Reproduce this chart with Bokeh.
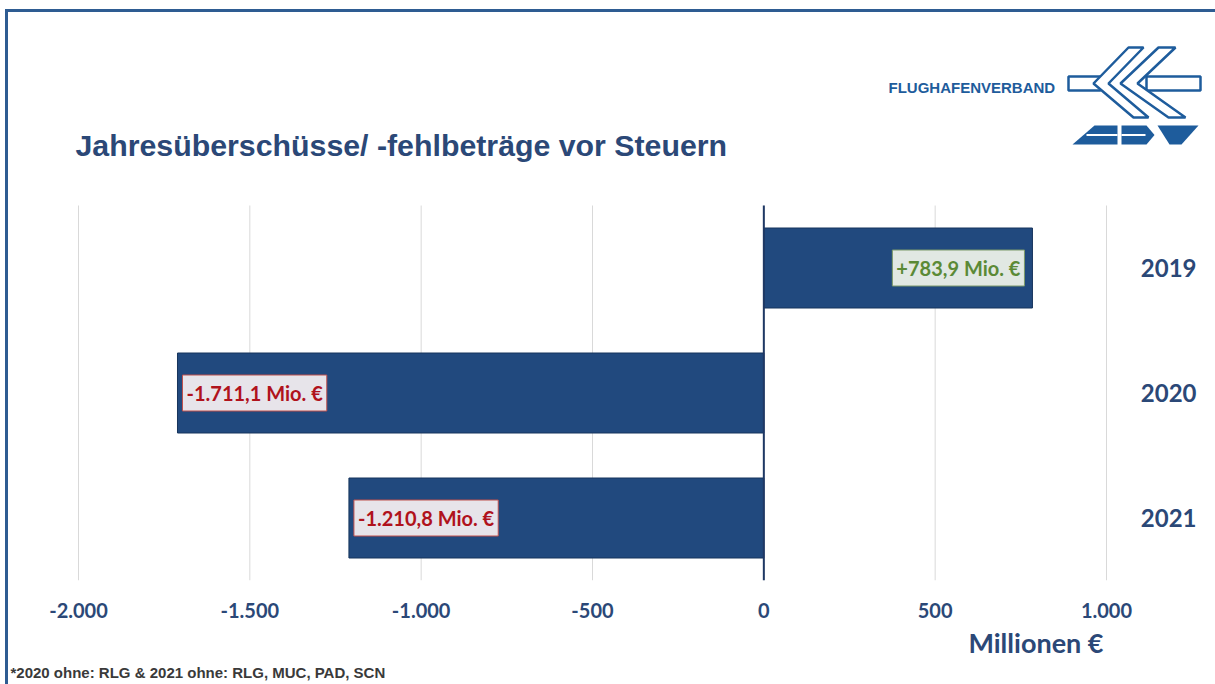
from bokeh.plotting import figure
from bokeh.models import Range1d, Title, ColumnDataSource, FixedTicker
from bokeh.core.properties import value
from bokeh.embed import file_html
from bokeh.resources import INLINE

# ---------------- data ----------------
years = ["2019", "2020", "2021"]
results = [783.9, -1711.1, -1210.8]          # Mio. EUR, before taxes
tick_values = [-2000, -1500, -1000, -500, 0, 500, 1000]
tick_labels = ["-2.000", "-1.500", "-1.000", "-500", "0", "500", "1.000"]
title_text = "Jahresüberschüsse/ -fehlbeträge vor Steuern"
unit_text = "Millionen €"
footnote_text = "*2020 ohne: RLG & 2021 ohne: RLG, MUC, PAD, SCN"
logo_text = "FLUGHAFENVERBAND"

# ---------------- styles / layout ----------------
W, H = 1215, 684
FRAME_BOTTOM = 580            # pixel row of the chart baseline
PLOT_L, PLOT_R = 78, 1106     # pixel columns of first / last tick
ROW_PX = 125                  # pixel height of one category row
BAR = "#21497E"
TXT = "#2B4877"
LOGO = "#1E5C9C"
POS_TXT, POS_BG, POS_BD = "#5B8A36", "#E1E8E3", "#7D9A6A"
NEG_TXT, NEG_BG, NEG_BD = "#B0121C", "#E7E4EA", "#C0504D"


def de_fmt(v):
    s = f"{abs(v):,.1f}".replace(",", "X").replace(".", ",").replace("X", ".")
    return ("+" if v > 0 else "-") + s + " Mio. €"


ppu = (PLOT_R - PLOT_L) / (tick_values[-1] - tick_values[0])
x_start = tick_values[0] - PLOT_L / ppu
x_end = tick_values[-1] + (W - PLOT_R) / ppu
n = len(years)
y_pos = [n - i - 0.5 for i in range(n)]      # 2019 on top

p = figure(width=W, height=H, x_range=Range1d(x_start, x_end),
           y_range=Range1d(0, FRAME_BOTTOM / ROW_PX),
           y_axis_location=None, toolbar_location=None, output_backend="svg",
           min_border_left=0, min_border_right=0, min_border_top=0,
           min_border_bottom=H - FRAME_BOTTOM)
p.outline_line_color = None
p.background_fill_color = None
p.border_fill_color = None
p.xgrid.grid_line_color = None
p.ygrid.grid_line_color = None
p.styles = {"box-shadow": "inset 0 9px 0 white, inset 5px 0 0 white, inset 8px 0 0 #2E5C92"}

# pixel-coordinate ranges for decorations
p.extra_x_ranges = {"px": Range1d(0, W)}
p.extra_y_ranges = {"px": Range1d(FRAME_BOTTOM, 0)}
PX = dict(x_range_name="px", y_range_name="px")

# grid lines (only over the category rows)
p.segment(x0=tick_values, y0=[0] * len(tick_values), x1=tick_values, y1=[n] * len(tick_values),
          line_color="#D9D9D9", line_width=1)

# bars
src = ColumnDataSource(dict(y=y_pos, value=results, label=[de_fmt(v) for v in results]))
p.hbar(y="y", left=0, right="value", height=0.64, source=src,
       fill_color=BAR, line_color="#16345C", line_width=1)

# zero line
p.segment(x0=[0], y0=[0], x1=[0], y1=[n], line_color="#1F3864", line_width=2)

# value labels
pos = [i for i, v in enumerate(results) if v > 0]
neg = [i for i, v in enumerate(results) if v <= 0]
src_pos = ColumnDataSource(dict(y=[y_pos[i] for i in pos], value=[results[i] for i in pos],
                                label=[de_fmt(results[i]) for i in pos]))
src_neg = ColumnDataSource(dict(y=[y_pos[i] for i in neg], value=[results[i] for i in neg],
                                label=[de_fmt(results[i]) for i in neg]))
PAD = dict(left=4, right=4, top=6, bottom=6)
p.text(x="value", y="y", text="label", source=src_pos, text_align="right",
       text_baseline="middle", x_offset=-8, text_font=value("Lato"), text_font_style="bold",
       text_font_size="20px", text_color=POS_TXT, background_fill_color=POS_BG,
       border_line_color=POS_BD, padding=PAD)
p.text(x="value", y="y", text="label", source=src_neg, text_align="left",
       text_baseline="middle", x_offset=5, text_font=value("Lato"), text_font_style="bold",
       text_font_size="20px", text_color=NEG_TXT, background_fill_color=NEG_BG,
       border_line_color=NEG_BD, padding=PAD)

# category labels (right side)
p.text(x=[1196] * n, y=y_pos, text=years, y_range_name="default", x_range_name="px",
       text_align="right", text_baseline="middle", text_font=value("Lato"),
       text_font_style="bold", text_font_size="24px", text_color=TXT)

# x axis
xa = p.xaxis[0]
xa.ticker = FixedTicker(ticks=tick_values)
xa.major_label_overrides = {t: l for t, l in zip(tick_values, tick_labels)}
xa.axis_line_color = None
xa.major_tick_line_color = None
xa.minor_tick_line_color = None
xa.major_label_standoff = 16
xa.major_label_text_font = "Lato"
xa.major_label_text_font_style = "bold"
xa.major_label_text_font_size = "20px"
xa.major_label_text_color = TXT

# unit + footnote below the axis
p.add_layout(Title(text=unit_text, align="right", offset=(W - 1103), standoff=6,
                   text_font="Lato", text_font_style="bold", text_font_size="27px",
                   text_color=TXT), "below")
p.add_layout(Title(text=footnote_text, align="left", offset=10, standoff=0,
                   text_font="Liberation Sans", text_font_style="bold", text_font_size="15px",
                   text_color="#3A3A3A"), "below")

# ---------------- header decorations ----------------
p.segment(x0=[6], y0=[10], x1=[W], y1=[10], line_color="#2E5C92", line_width=3, **PX)

p.text(x=[75], y=[145], text=[title_text], text_font=value("Liberation Sans"),
       text_font_style="bold", text_font_size="30.3px", text_color=TXT,
       text_baseline="alphabetic", text_align="left", **PX)
p.text(x=[888], y=[87], text=[logo_text], text_font=value("Liberation Sans"),
       text_font_style="bold", text_font_size="15px", text_color=LOGO,
       text_baseline="alphabetic", text_align="left", **PX)

# logo: fuselage pieces
p.patches(xs=[[1068, 1100, 1100, 1068], [1146, 1200, 1200, 1146]],
          ys=[[76, 76, 90, 90], [76, 76, 90, 90]],
          fill_color="white", line_color=LOGO, line_width=2.5, **PX)
# logo: chevrons
p.patches(xs=[[1093, 1128, 1143, 1108, 1148, 1133],
              [1120, 1158, 1175, 1137, 1185, 1168]],
          ys=[[83, 47, 47, 83, 117, 117],
              [83, 47, 47, 83, 117, 117]],
          fill_color="white", line_color=LOGO, line_width=2.5, **PX)
# logo: ADV letters
p.patches(xs=[[1072, 1094, 1117, 1117],
              [1121, 1146, 1154, 1146, 1121],
              [1157, 1198, 1181, 1169]],
          ys=[[144, 125, 125, 144],
              [125, 125, 134.5, 144, 144],
              [125, 125, 144, 144]],
          fill_color=LOGO, line_color=None, **PX)
p.segment(x0=[1086, 1121], y0=[134.5, 134.5], x1=[1117, 1145], y1=[134.5, 134.5],
          line_color="white", line_width=2, **PX)

open("out.html", "w").write(file_html(p, INLINE))
